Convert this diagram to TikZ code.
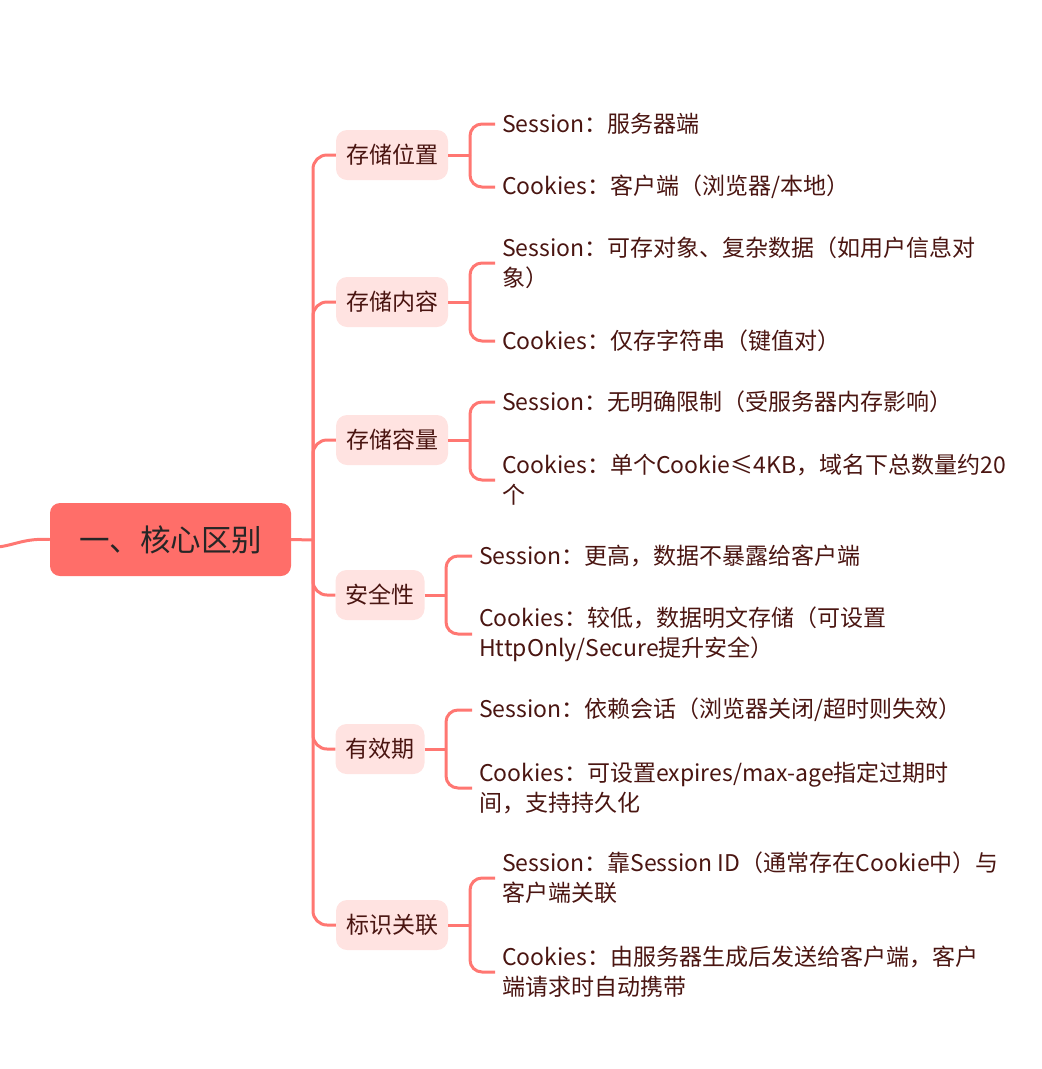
\documentclass[tikz,border=0pt]{standalone}
\usepackage{fontspec}
\setmainfont{Noto Sans CJK SC}
\definecolor{ln}{HTML}{FF7772}
\definecolor{rootfill}{HTML}{FF6E69}
\definecolor{kidfill}{HTML}{FFE3E1}
\definecolor{txt}{HTML}{4A1511}
\tikzset{
  conn/.style={draw=ln, line width=3pt, rounded corners=14pt},
  rootbox/.style={fill=rootfill, rounded corners=10pt, minimum width=241pt, minimum height=73pt, font=\fontsize{30.5}{33}\selectfont, text=black!85},
  kidbox/.style={fill=kidfill, rounded corners=11pt, minimum height=50pt, inner xsep=10pt, font=\fontsize{23}{26}\selectfont, text=txt},
  leaf/.style={anchor=west, align=left, inner xsep=7pt, inner ysep=0pt, font=\fontsize{23}{30}\selectfont, text=txt}
}
\begin{document}
\begin{tikzpicture}[x=1pt,y=-1pt]
\useasboundingbox (0,0) rectangle (1042,1069);
% root
\node[rootbox] (root) at (170.5,539.5) {一、核心区别};
\coordinate (lend) at (-2,547);
\draw[draw=ln, line width=3pt] (root.west) .. controls (25,538) and (15,545) .. (lend);
\coordinate (spine) at (313,540);
\draw[draw=ln, line width=3pt] (root.east) -- (spine);
% children
\node[kidbox] (c1) at (392,155) {存储位置};
\node[kidbox] (c2) at (392,302) {存储内容};
\node[kidbox] (c3) at (392,440) {存储容量};
\node[kidbox] (c4) at (380,595) {安全性};
\node[kidbox] (c5) at (380,749) {有效期};
\node[kidbox] (c6) at (392,925) {标识关联};
\foreach \c in {c1,c2,c3,c4,c5,c6} {\draw[conn] (spine) |- (\c.west);}
% leaves
\node[leaf] (l1a) at (495,124) {Session：服务器端};
\node[leaf] (l1b) at (495,187) {Cookies：客户端（浏览器/本地）};
\node[leaf] (l2a) at (495,263) {Session：可存对象、复杂数据（如用户信息对\\象）};
\node[leaf] (l2b) at (495,341) {Cookies：仅存字符串（键值对）};
\node[leaf] (l3a) at (495,402) {Session：无明确限制（受服务器内存影响）};
\node[leaf] (l3b) at (495,480) {Cookies：单个Cookie≤4KB，域名下总数量约20\\个};
\node[leaf] (l4a) at (472,556) {Session：更高，数据不暴露给客户端};
\node[leaf] (l4b) at (472,634) {Cookies：较低，数据明文存储（可设置\\HttpOnly/Secure提升安全）};
\node[leaf] (l5a) at (472,710) {Session：依赖会话（浏览器关闭/超时则失效）};
\node[leaf] (l5b) at (472,788) {Cookies：可设置expires/max-age指定过期时\\间，支持持久化};
\node[leaf] (l6a) at (495,878) {Session：靠Session ID（通常存在Cookie中）与\\客户端关联};
\node[leaf] (l6b) at (495,972) {Cookies：由服务器生成后发送给客户端，客户\\端请求时自动携带};
% brackets
\coordinate (b1) at (470,155);
\coordinate (b2) at (470,302);
\coordinate (b3) at (470,440);
\coordinate (b4) at (446,595);
\coordinate (b5) at (446,749);
\coordinate (b6) at (470,925);
\foreach \c/\b/\la/\lb in {c1/b1/l1a/l1b, c2/b2/l2a/l2b, c3/b3/l3a/l3b, c4/b4/l4a/l4b, c5/b5/l5a/l5b, c6/b6/l6a/l6b} {
  \draw[draw=ln, line width=3pt] (\c.east) -- (\b);
  \draw[conn, rounded corners=12pt] (\b) |- (\la.west);
  \draw[conn, rounded corners=12pt] (\b) |- (\lb.west);
}
\end{tikzpicture}
\end{document}
